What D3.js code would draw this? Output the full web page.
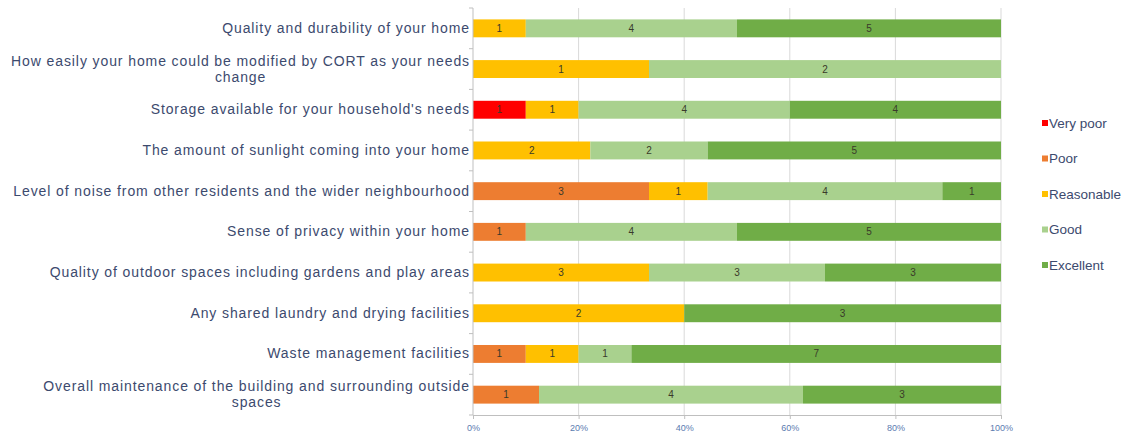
<html>

<head>
    <meta charset="utf-8">
    <script src="https://d3js.org/d3.v7.min.js"></script>
</head>

<body style="margin:0;background:#fff">
    <script>

        // categories (top to bottom)
        var categories = [
            "Quality and durability of your home",
            "How easily your home could be modified by CORT as your needs change",
            "Storage available for your household's needs",
            "The amount of sunlight coming into your home",
            "Level of noise from other residents and the wider neighbourhood",
            "Sense of privacy within your home",
            "Quality of outdoor spaces including gardens and play areas",
            "Any shared laundry and drying facilities",
            "Waste management facilities",
            "Overall maintenance of the building and surrounding outside spaces"
        ];
        // series
        var seriesNames = ["Very poor", "Poor", "Reasonable", "Good", "Excellent"];
        var veryPoor   = [0, 0, 1, 0, 0, 0, 0, 0, 0, 0];
        var poor       = [0, 0, 0, 0, 3, 1, 0, 0, 1, 1];
        var reasonable = [1, 1, 1, 2, 1, 0, 3, 2, 1, 0];
        var good       = [4, 2, 4, 2, 4, 4, 3, 0, 1, 4];
        var excellent  = [5, 0, 4, 5, 1, 5, 3, 3, 7, 3];
        var tickValues = [0, 0.2, 0.4, 0.6, 0.8, 1];

        var colors = ["#ff0000", "#ed7d31", "#ffc000", "#a9d18e", "#70ad47"];

        var width = 1126;
        var height = 436;
        var margin = { top: 8, right: 125, bottom: 21, left: 473 };

        var svg = d3.select("body").append("svg").attr("width", width).attr("height", height)
            .style("font-family", "'Liberation Sans', Arial, sans-serif");

        // build rows
        var values = [veryPoor, poor, reasonable, good, excellent];
        var rows = categories.map(function(c, i) {
            var r = { name: c };
            seriesNames.forEach(function(s, k) { r[s] = values[k][i]; });
            return r;
        });

        var stacked = d3.stack().keys(seriesNames).offset(d3.stackOffsetExpand)(rows);

        var xScale = d3.scaleLinear().domain([0, 1]).range([margin.left, width - margin.right]);
        var yScale = d3.scaleBand().domain(categories)
            .range([margin.top, height - margin.bottom]).paddingInner(0.56).paddingOuter(0.28);

        // gridlines
        svg.append("g").selectAll("line").data(tickValues.slice(1)).enter().append("line")
            .attr("x1", function(d) { return xScale(d); }).attr("x2", function(d) { return xScale(d); })
            .attr("y1", margin.top).attr("y2", height - margin.bottom)
            .attr("stroke", "#d9d9d9").attr("stroke-width", 1);

        // bars
        var layer = svg.append("g").selectAll("g").data(stacked).enter().append("g")
            .attr("fill", function(d, i) { return colors[i]; });

        layer.selectAll("rect").data(function(d) { return d; }).enter().append("rect")
            .attr("x", function(d) { return xScale(d[0]); })
            .attr("y", function(d) { return yScale(d.data.name); })
            .attr("width", function(d) { return xScale(d[1]) - xScale(d[0]); })
            .attr("height", yScale.bandwidth());

        // data labels
        stacked.forEach(function(s) {
            svg.append("g").selectAll("text").data(s.filter(function(d) { return d[1] > d[0]; }))
                .enter().append("text")
                .attr("x", function(d) { return (xScale(d[0]) + xScale(d[1])) / 2; })
                .attr("y", function(d) { return yScale(d.data.name) + yScale.bandwidth() / 2 + 3.5; })
                .attr("text-anchor", "middle")
                .attr("font-size", 10)
                .attr("fill", "#3a3a2a")
                .text(function(d) { return d.data[s.key]; });
        });

        // y axis
        var yAxis = svg.append("g").attr("transform", "translate(" + margin.left + ",0)");
        yAxis.append("line").attr("x1", 0).attr("x2", 0)
            .attr("y1", margin.top).attr("y2", height - margin.bottom).attr("stroke", "#bfbfbf");
        var step = yScale.step();
        var bandTop = yScale(categories[0]) - yScale.paddingOuter() * step;
        yAxis.selectAll(".tk").data(d3.range(categories.length + 1)).enter().append("line")
            .attr("x1", -4).attr("x2", 0)
            .attr("y1", function(i) { return bandTop + i * step; })
            .attr("y2", function(i) { return bandTop + i * step; })
            .attr("stroke", "#bfbfbf");

        // category labels (wrapped)
        var labelColor = "#3c4a6e";
        var labelSize = 14;
        var spacing = "0.9px";
        var maxW = 466;
        categories.forEach(function(c) {
            var cy = yScale(c) + yScale.bandwidth() / 2;
            var t = svg.append("text").attr("font-size", labelSize).attr("fill", labelColor)
                .attr("letter-spacing", spacing)
                .attr("text-anchor", "end").attr("x", margin.left - 3);
            var words = c.split(" ");
            var lines = [];
            var cur = [];
            words.forEach(function(w) {
                t.text(cur.concat(w).join(" "));
                if (t.node().getComputedTextLength() > maxW && cur.length) {
                    lines.push(cur.join(" "));
                    cur = [w];
                } else {
                    cur.push(w);
                }
            });
            lines.push(cur.join(" "));
            var y0 = cy + 4.5 - (lines.length - 1) * 8;
            t.text(lines[0]).attr("y", y0);
            if (lines.length > 1) {
                var w0 = t.node().getComputedTextLength();
                var mid = margin.left - 3 - w0 / 2;
                for (var k = 1; k < lines.length; k++) {
                    svg.append("text").attr("font-size", labelSize).attr("fill", labelColor)
                        .attr("letter-spacing", spacing)
                        .attr("text-anchor", "middle").attr("x", mid)
                        .attr("y", y0 + k * 16)
                        .text(lines[k]);
                }
            }
        });

        // x axis
        var xAxis = svg.append("g").attr("transform", "translate(0," + (height - margin.bottom) + ")")
            .call(d3.axisBottom(xScale).tickValues(tickValues).tickFormat(d3.format(".0%")).tickSize(4).tickPadding(6));
        xAxis.select(".domain").attr("stroke", "#bfbfbf");
        xAxis.selectAll(".tick line").attr("stroke", "#bfbfbf");
        xAxis.selectAll("text").attr("fill", "#5b7bb0").attr("font-size", 9)
            .style("font-family", "'Liberation Sans', Arial, sans-serif");

        // legend
        var legend = svg.append("g").selectAll("g").data(seriesNames).enter().append("g")
            .attr("transform", function(d, i) { return "translate(1042," + (123 + i * 35.5) + ")"; });
        legend.append("rect").attr("x", 0).attr("y", -3).attr("width", 6).attr("height", 6)
            .attr("fill", function(d, i) { return colors[i]; });
        legend.append("text").attr("x", 7).attr("y", 4.5).attr("font-size", 13.5)
            .attr("fill", labelColor).text(function(d) { return d; });
    </script>
</body>

</html>
